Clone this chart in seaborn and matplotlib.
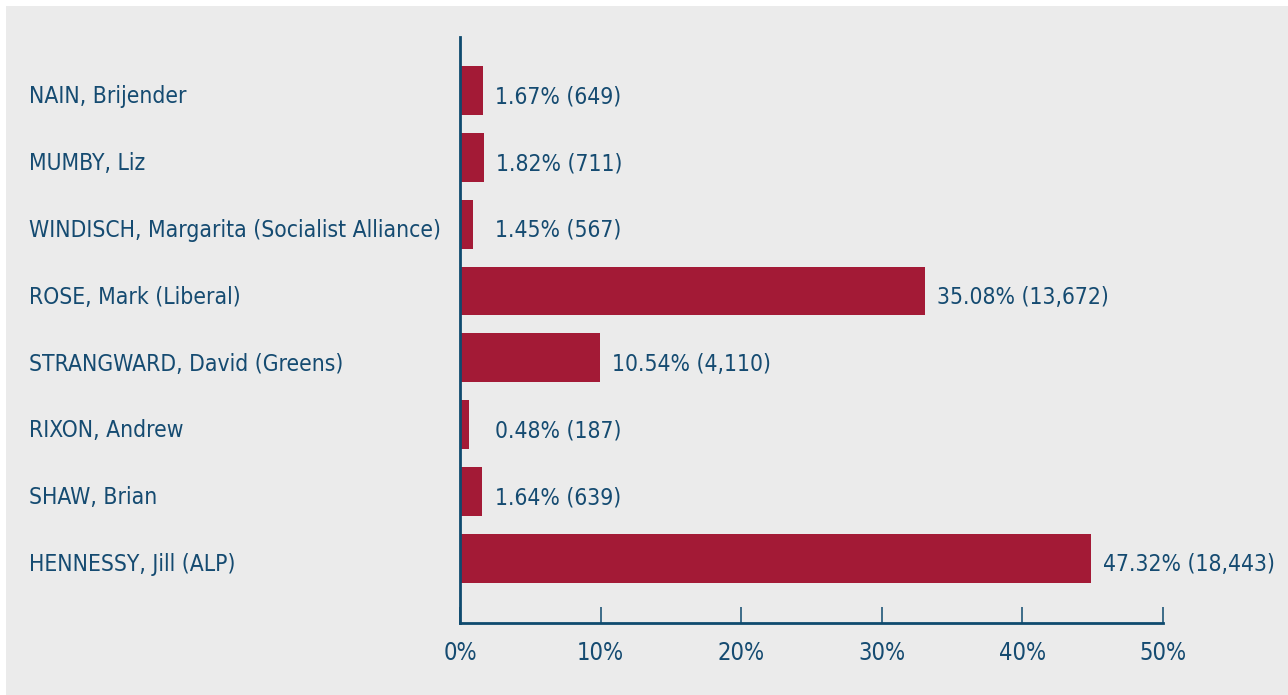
import matplotlib
matplotlib.use("Agg")
import matplotlib.pyplot as plt
import matplotlib.transforms as mtransforms
from matplotlib import font_manager
import seaborn as sns
import pandas as pd

candidates = ["NAIN, Brijender", "MUMBY, Liz", "WINDISCH, Margarita (Socialist Alliance)",
              "ROSE, Mark (Liberal)", "STRANGWARD, David (Greens)", "RIXON, Andrew",
              "SHAW, Brian", "HENNESSY, Jill (ALP)"]
bar_values = [1.64, 1.71, 0.92, 33.07, 9.96, 0.64, 1.56, 44.88]
value_labels = ["1.67% (649)", "1.82% (711)", "1.45% (567)", "35.08% (13,672)",
                "10.54% (4,110)", "0.48% (187)", "1.64% (639)", "47.32% (18,443)"]
x_ticks = [0, 10, 20, 30, 40, 50]
x_tick_labels = ["0%", "10%", "20%", "30%", "40%", "50%"]

BAR = "#a31a36"
TXT = "#154b71"
SPINE = "#0e4a6e"
BG = "#ebebeb"

sns.set_theme(style="white")
names = {f.name for f in font_manager.fontManager.ttflist}
if "Liberation Sans Narrow" in names:
    fam = ["Liberation Sans Narrow", "DejaVu Sans"]
    stretch = "normal"
else:
    fam = ["DejaVu Sans"]
    stretch = "condensed"
plt.rcParams["font.family"] = fam
plt.rcParams["font.stretch"] = stretch

W, H = 1288, 695
fig = plt.figure(figsize=(W / 100, H / 100), dpi=100, facecolor="white")
fig.patches.append(plt.Rectangle((6 / W, 0), 1 - 6 / W, 1 - 6 / H, transform=fig.transFigure,
                                 facecolor=BG, edgecolor="none", zorder=-10))
ax = fig.add_axes([460 / W, 1 - 623 / H, (1163 - 460) / W, (623 - 37) / H])
ax.set_facecolor("none")
ax.set_zorder(1)

df = pd.DataFrame({"candidate": candidates, "value": bar_values})
sns.barplot(data=df, x="value", y="candidate", orient="h", color=BAR, saturation=1,
            width=0.73, ax=ax, zorder=2, edgecolor="none", linewidth=0)

ax.set_xlim(0, 50)
ax.set_ylim(7.966, -0.80)
ax.set_xlabel("")
ax.set_ylabel("")
for s in ["top", "right"]:
    ax.spines[s].set_visible(False)
for s in ["left", "bottom"]:
    ax.spines[s].set_color(SPINE)
    ax.spines[s].set_linewidth(2.0)
    ax.spines[s].set_zorder(3)
ax.spines["bottom"].set_bounds(0, 50)

ax.set_yticks([])
ax.set_xticks(x_ticks)
ax.set_xticklabels(x_tick_labels)
ax.tick_params(axis="x", bottom=True, direction="in", length=11.5, width=1.1, color=SPINE,
               labelcolor=TXT, labelsize=17, pad=13)

down = mtransforms.ScaledTranslation(0, -4.5 / 72, fig.dpi_scale_trans)
right = mtransforms.ScaledTranslation(8.5 / 72, -4.5 / 72, fig.dpi_scale_trans)
lab_tr = mtransforms.blended_transform_factory(fig.transFigure, ax.transData) + down
for i, (name, v, lab) in enumerate(zip(candidates, bar_values, value_labels)):
    ax.text(29 / W, i, name, transform=lab_tr, ha="left", va="center",
            fontsize=16.4, color=TXT, clip_on=False)
    ax.text(max(v, 1.68), i, lab, transform=ax.transData + right, ha="left", va="center",
            fontsize=16.4, color=TXT, clip_on=False)

fig.savefig("out.png", dpi=100, facecolor="white")
